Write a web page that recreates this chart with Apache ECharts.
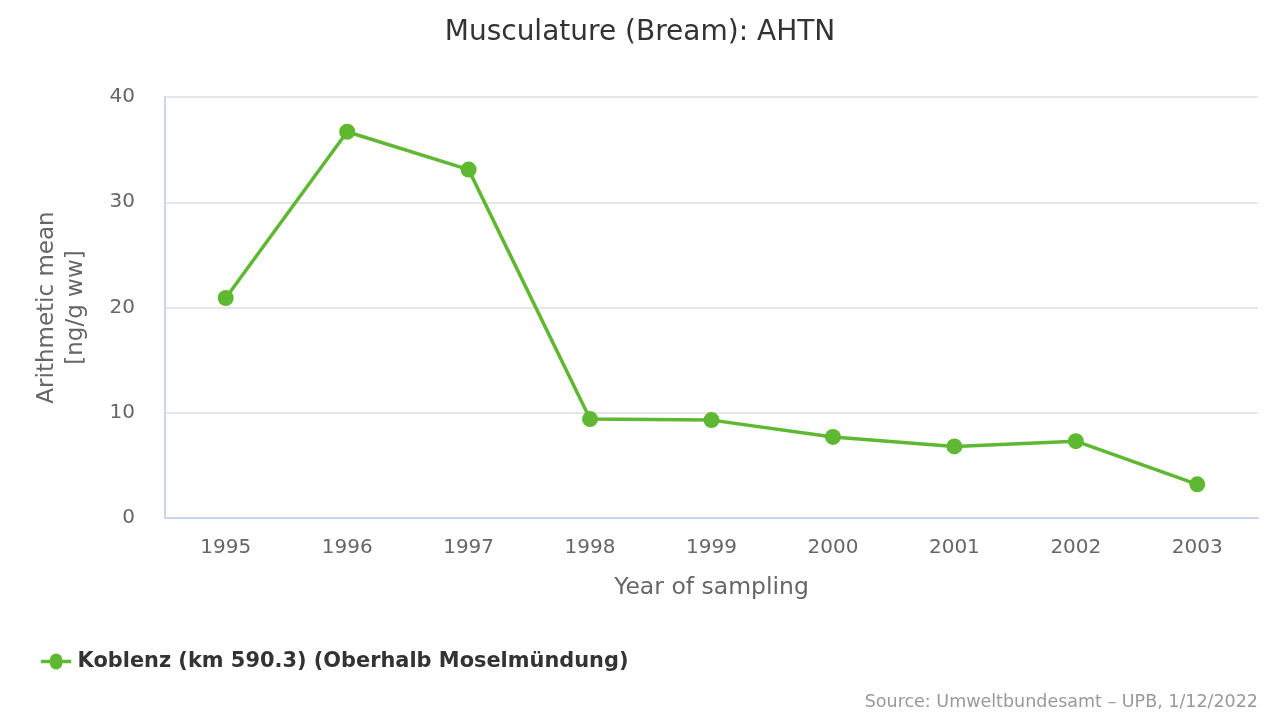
<!DOCTYPE html>
<html>
<head>
<meta charset="utf-8">
<script src="https://cdn.jsdelivr.net/npm/echarts@6/dist/echarts.min.js"></script>
<style>
html, body { margin: 0; padding: 0; background: #fff; }
#chart { width: 1280px; height: 720px; }
</style>
</head>
<body>
<div id="chart"></div>
<script>
var years = ['1995', '1996', '1997', '1998', '1999', '2000', '2001', '2002', '2003'];
var koblenz = [20.9, 36.7, 33.1, 9.4, 9.3, 7.7, 6.8, 7.3, 3.2];
var seriesName = 'Koblenz (km 590.3) (Oberhalb Moselmündung)';
var FONT = 'DejaVu Sans';
var GREEN = '#5fb832';

var chart = echarts.init(document.getElementById('chart'));
chart.setOption({
    animation: false,
    textStyle: { fontFamily: FONT },
    title: {
        text: 'Musculature (Bream): AHTN',
        left: 'center',
        top: 14,
        textStyle: { fontFamily: FONT, fontSize: 28, fontWeight: 'normal', color: '#333333' }
    },
    graphic: [{
        type: 'text',
        right: 22,
        top: 693,
        style: { text: 'Source: Umweltbundesamt – UPB, 1/12/2022', font: '17.5px "DejaVu Sans"', fill: '#999999' }
    }],
    legend: {
        left: 36,
        top: 646,
        itemWidth: 33,
        itemHeight: 16,
        icon: 'path://M0,6 L10,6 A7,7 0 1 1 24,6 L34,6 L34,10 L24,10 A7,7 0 1 1 10,10 L0,10 Z',
        textStyle: { fontFamily: FONT, fontSize: 20.9, fontWeight: 'bold', color: '#333333' },
        data: [seriesName]
    },
    grid: { left: 165, right: 22, top: 97, bottom: 202 },
    xAxis: {
        type: 'category',
        data: years,
        boundaryGap: true,
        name: 'Year of sampling',
        nameLocation: 'middle',
        nameGap: 58,
        nameTextStyle: { fontFamily: FONT, fontSize: 23.5, color: '#666666' },
        axisLine: { lineStyle: { color: '#ccd6eb', width: 2 } },
        axisTick: { show: false },
        axisLabel: { fontFamily: FONT, fontSize: 20, color: '#666666', margin: 20 }
    },
    yAxis: {
        type: 'value',
        min: 0,
        max: 40,
        interval: 10,
        name: 'Arithmetic mean\n[ng/g ww]',
        nameLocation: 'middle',
        nameGap: 74,
        nameRotate: 90,
        nameTextStyle: { fontFamily: FONT, fontSize: 23, color: '#666666', lineHeight: 29 },
        axisLine: { show: true, lineStyle: { color: '#ccd6eb', width: 2 } },
        axisTick: { show: false },
        axisLabel: { fontFamily: FONT, fontSize: 20, color: '#666666', margin: 30 },
        splitLine: { lineStyle: { color: '#e6e6e6', width: 2 } }
    },
    series: [{
        name: seriesName,
        type: 'line',
        data: koblenz,
        symbol: 'circle',
        symbolSize: 16,
        lineStyle: { color: GREEN, width: 3.5 },
        itemStyle: { color: GREEN }
    }]
});
</script>
</body>
</html>
